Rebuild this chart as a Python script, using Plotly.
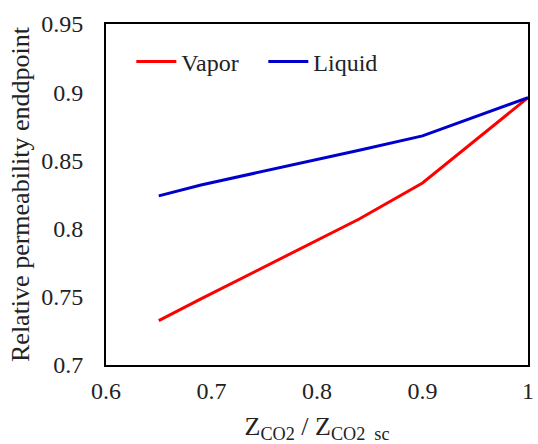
import plotly.graph_objects as go

z_ratio = [0.65, 0.69, 0.84, 0.90, 1.0]
vapor = [0.7325, 0.7485, 0.807, 0.8334, 0.896]
liquid = [0.824, 0.832, 0.8575, 0.868, 0.896]
series_names = ["Vapor", "Liquid"]
x_ticks = [0.6, 0.7, 0.8, 0.9, 1.0]
x_ticklabels = ["0.6", "0.7", "0.8", "0.9", "1"]
y_ticks = [0.7, 0.75, 0.8, 0.85, 0.9, 0.95]
y_ticklabels = ["0.7", "0.75", "0.8", "0.85", "0.9", "0.95"]

font = "Liberation Serif"

fig = go.Figure()
fig.add_trace(go.Scatter(x=z_ratio, y=vapor, mode="lines", name=series_names[0],
                         line=dict(color="#ff0000", width=3)))
fig.add_trace(go.Scatter(x=z_ratio, y=liquid, mode="lines", name=series_names[1],
                         line=dict(color="#0000cc", width=3)))

fig.update_layout(
    width=538, height=444,
    margin=dict(l=106, r=4, t=24, b=79),
    paper_bgcolor="white", plot_bgcolor="white",
    font=dict(family=font, size=24, color="#222222"),
    showlegend=True,
    legend=dict(orientation="h", x=0.06, y=0.955, xanchor="left", yanchor="top",
                bgcolor="rgba(0,0,0,0)", font=dict(family=font, size=24),
                itemwidth=40, tracegroupgap=0, entrywidth=77, entrywidthmode="pixels"),
    xaxis=dict(range=[0.6, 1.0], tickvals=x_ticks, ticktext=x_ticklabels,
               tickfont=dict(family=font, size=24),
               showgrid=False, zeroline=False, showline=True, linecolor="black",
               linewidth=2, mirror=True, ticks="", ticklabelstandoff=3,
               title=dict(text="Z<sub>CO2</sub> / Z<sub>CO2  sc</sub>", standoff=14,
                          font=dict(family=font, size=26))),
    yaxis=dict(range=[0.7, 0.95], tickvals=y_ticks, ticktext=y_ticklabels,
               tickfont=dict(family=font, size=24),
               showgrid=False, zeroline=False, showline=True, linecolor="black",
               linewidth=2, mirror=True, ticks="", ticklabelstandoff=16,
               title=dict(text="Relative permeability enddpoint", standoff=4,
                          font=dict(family=font, size=26))),
)

fig.write_html("out.html")
